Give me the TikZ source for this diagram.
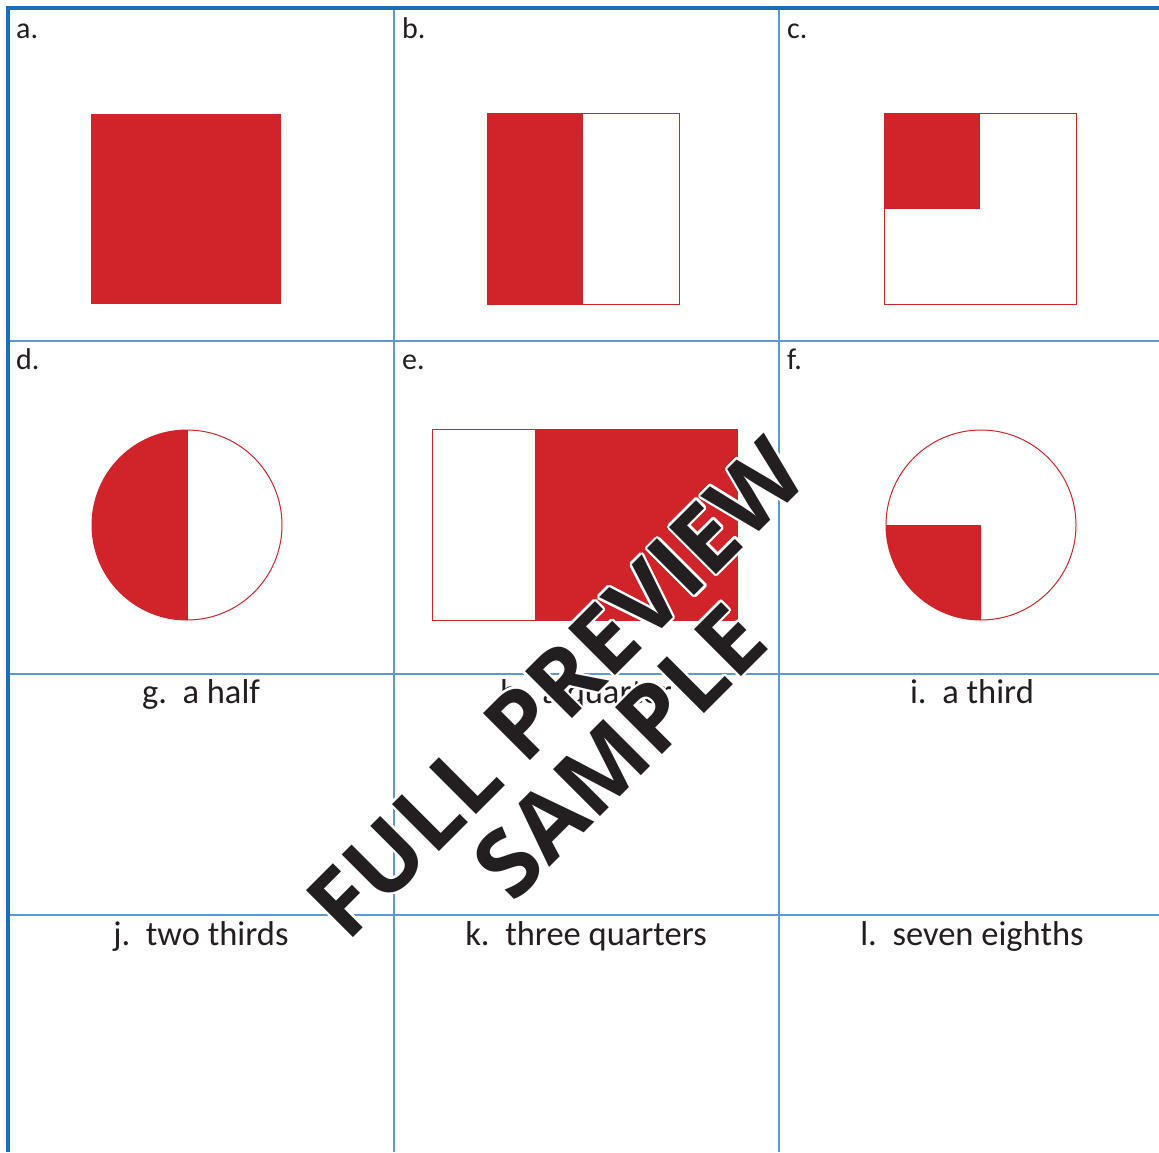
\documentclass[tikz,border=0pt]{standalone}
\usepackage{fontspec}
\setmainfont{Carlito}
\newfontfamily\wmfont{Open Sans}
\usepackage{contour}
\contourlength{2.2pt}
\contournumber{16}
\definecolor{fracred}{HTML}{D1232A}
\definecolor{gridblue}{HTML}{5B9BD5}
\definecolor{edgeblue}{HTML}{1B6DB5}
\definecolor{inkgray}{HTML}{231F20}
\begin{document}
\begin{tikzpicture}[x=1pt,y=-1pt,
  gridline/.style={draw=gridblue,line width=1.3pt},
  edgeline/.style={draw=edgeblue,line width=4pt},
  redfill/.style={fill=fracred},
  redline/.style={draw=fracred,line width=1pt},
  celllabel/.style={anchor=base west,inner sep=0pt,font=\fontsize{30}{32}\selectfont,text=inkgray},
  fraclabel/.style={anchor=base,inner sep=0pt,font=\fontsize{34.5}{36}\selectfont,text=inkgray},
  wmtext/.style={rotate=45,inner sep=0pt,font=\wmfont\bfseries\fontsize{93}{93}\selectfont,text=inkgray}
]
\useasboundingbox (0,0) rectangle (1159,1152);
\fill[white] (0,0) rectangle (1159,1152);
% grid
\draw[gridline] (394,8) -- (394,1152);
\draw[gridline] (779,8) -- (779,1152);
\draw[gridline] (8,341) -- (1159,341);
\draw[gridline] (8,674) -- (1159,674);
\draw[gridline] (8,915) -- (1159,915);
\draw[edgeline] (8,1152) -- (8,8) -- (1159,8);
% cell labels
\node[celllabel] (la) at (16,38) {a.};
\node[celllabel] (lb) at (402,38) {b.};
\node[celllabel] (lc) at (787,38) {c.};
\node[celllabel] (ld) at (16,369) {d.};
\node[celllabel] (le) at (402,369) {e.};
\node[celllabel] (lf) at (787,369) {f.};
% a
\fill[redfill] (91,114) rectangle (281,304);
% b
\fill[redfill] (487,113) rectangle (583,304);
\draw[redline] (487,113) rectangle (679,304);
% c
\fill[redfill] (884,113) rectangle (980,209);
\draw[redline] (884,113) rectangle (1076,304);
% d
\fill[redfill] (187,430) arc[start angle=90,end angle=270,radius=95pt] -- cycle;
\draw[redline] (187,525) circle[radius=95pt];
\draw[redline] (187,430) -- (187,620);
% e
\fill[redfill] (535,429) rectangle (737,620);
\draw[redline] (432,429) rectangle (737,620);
% f
\fill[redfill] (981,525) -- (886,525) arc[start angle=180,end angle=270,radius=95pt] -- cycle;
\draw[redline] (981,525) circle[radius=95pt];
% fraction labels
\node[fraclabel] (lg) at (201,703) {g.\ \ a half};
\node[fraclabel] (lh) at (586,703) {h.\ \ a quarter};
\node[fraclabel] (li) at (972,703) {i.\ \ a third};
\node[fraclabel] (lj) at (201,945) {j.\ \ two thirds};
\node[fraclabel] (lk) at (586,945) {k.\ \ three quarters};
\node[fraclabel] (ll) at (972,945) {l.\ \ seven eighths};
% watermark
\node[wmtext] (wm1) at (557,689) {\contour{white}{FULL PREVIEW}};
\node[wmtext] (wm2) at (620,752) {\contour{white}{SAMPLE}};
\end{tikzpicture}
\end{document}
